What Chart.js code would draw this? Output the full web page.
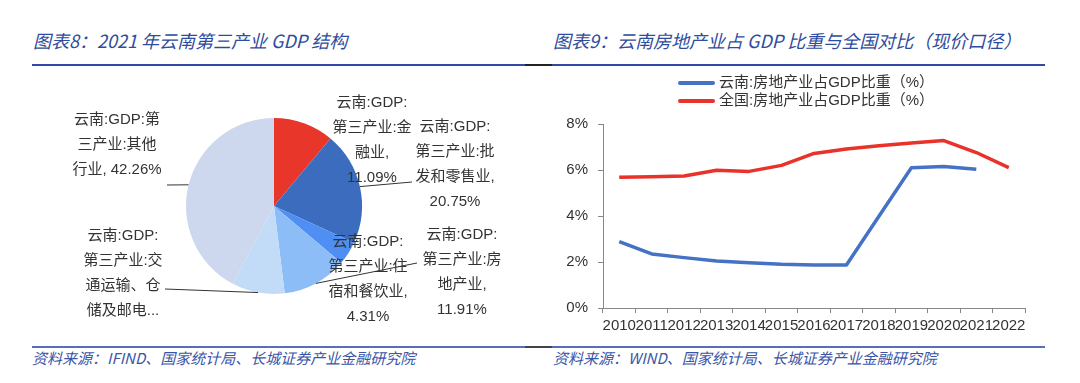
<!DOCTYPE html>
<html>
<head>
<meta charset="utf-8">
<script src="https://cdn.jsdelivr.net/npm/chart.js@4"></script>
<style>
  body { margin: 0; width: 1080px; height: 383px; position: relative; background: #fff; overflow: hidden; }
  .title { position: absolute; top: 28px; font: italic 18px/24px "Noto Sans CJK SC", sans-serif; color: #2e4c9e; white-space: nowrap; }
  .source { position: absolute; top: 348px; font: italic 15px/20px "Noto Sans CJK SC", sans-serif; color: #3a55a8; white-space: nowrap; }
  .rule { position: absolute; left: 32px; width: 1013px; }
  .rule .gap { position: absolute; left: 493px; width: 27px; top: 0; bottom: 0; }
  canvas { position: absolute; }
  #legend { position: absolute; left: 678px; top: 73px; font: 15px/18px "Liberation Sans", "Noto Sans CJK SC", sans-serif; color: #333; }
  #legend .item { height: 18px; white-space: nowrap; }
  #legend .swatch { display: inline-block; width: 37px; height: 4px; vertical-align: middle; margin-right: 4px; border-radius: 2px; }
</style>
</head>
<body>
<div class="title" style="left:33px">图表8：2021 年云南第三产业 GDP 结构</div>
<div class="title" style="left:553px">图表9：云南房地产业占 GDP 比重与全国对比（现价口径）</div>
<div class="rule" style="top:64px; height:2px; background:#2f4ba5"><div class="gap" style="background:#222"></div></div>
<div class="rule" style="top:346px; height:2px; background:#5a6db8"><div class="gap" style="background:#444"></div></div>
<div class="source" style="left:32px">资料来源：IFIND、国家统计局、长城证券产业金融研究院</div>
<div class="source" style="left:553px">资料来源：WIND、国家统计局、长城证券产业金融研究院</div>

<canvas id="pieChart" width="540" height="260" style="left:0; top:70px"></canvas>
<canvas id="lineChart" width="540" height="270" style="left:540px; top:70px"></canvas>
<div id="legend"></div>

<script>
// 图表8 数据
var pieLabels = [
  "云南:GDP:第三产业:金融业",
  "云南:GDP:第三产业:批发和零售业",
  "云南:GDP:第三产业:住宿和餐饮业",
  "云南:GDP:第三产业:房地产业",
  "云南:GDP:第三产业:交通运输、仓储及邮电通信业",
  "云南:GDP:第三产业:其他行业"
];
var pieValues = [11.09, 20.75, 4.31, 11.91, 9.68, 42.26];
var pieColors = ["#e8372a", "#3b6cbe", "#4f8ef2", "#8dbdf6", "#c2dcf8", "#cdd8ee"];

// 图表9 数据
var years = ["2010", "2011", "2012", "2013", "2014", "2015", "2016", "2017", "2018", "2019", "2020", "2021", "2022"];
var yunnanShare = [2.89, 2.35, 2.19, 2.04, 1.97, 1.90, 1.87, 1.87, 3.99, 6.10, 6.15, 6.03];
var nationalShare = [5.68, 5.71, 5.74, 5.99, 5.94, 6.20, 6.72, 6.91, 7.05, 7.17, 7.28, 6.76, 6.10];
var seriesNames = ["云南:房地产业占GDP比重（%）", "全国:房地产业占GDP比重（%）"];
var seriesColors = ["#4472c4", "#e8322a"];
var yTicks = [0, 2, 4, 6, 8];

var tickFont = { family: '"Liberation Sans", "Noto Sans CJK SC", sans-serif', size: 15 };

// label placement around the pie (offsets from pie centre), leader start point
var labelPos = [
  { dx: 98, dy: -66, w: 82 },
  { dx: 181, dy: -42, w: 82, lx: 138, ly: -24 },
  { dx: 94, dy: 73, w: 82 },
  { dx: 188, dy: 66, w: 82, lx: 143, ly: 57 },
  { dx: -151, dy: 67, w: 82, lx: -109, ly: 83 },
  { dx: -157, dy: -61, w: 92, lx: -107, ly: -21 }
];

function wrapText(ctx, text, maxW, maxLines) {
  var tokens = text.match(/[\u3000-\u9fff\uff00-\uffef]|[^\s\u3000-\u9fff\uff00-\uffef]+|\s+/g);
  var lines = [], cur = "";
  tokens.forEach(function (t) {
    if (cur !== "" && ctx.measureText(cur + t).width > maxW) {
      lines.push(cur.trim());
      cur = t.trim() === "" ? "" : t;
    } else {
      cur = cur + t;
    }
  });
  if (cur.trim()) lines.push(cur.trim());
  if (lines.length > maxLines) {
    var last = lines[maxLines - 1];
    while (last.length && ctx.measureText(last + "...").width > maxW) last = last.slice(0, -1);
    lines = lines.slice(0, maxLines - 1).concat(last + "...");
  }
  return lines;
}

var pieLabelPlugin = {
  id: "pieLabels",
  afterDatasetsDraw: function (chart) {
    var ctx = chart.ctx;
    var meta = chart.getDatasetMeta(0);
    ctx.save();
    ctx.font = '15px "Liberation Sans", "Noto Sans CJK SC", sans-serif';
    ctx.fillStyle = "#333";
    ctx.strokeStyle = "#333";
    ctx.lineWidth = 1;
    ctx.textAlign = "center";
    ctx.textBaseline = "middle";
    meta.data.forEach(function (arc, i) {
      var p = labelPos[i];
      if (p.lx === undefined) return;
      var mid = (arc.startAngle + arc.endAngle) / 2;
      ctx.beginPath();
      ctx.moveTo(arc.x + p.lx, arc.y + p.ly);
      ctx.lineTo(arc.x + Math.cos(mid) * arc.outerRadius, arc.y + Math.sin(mid) * arc.outerRadius);
      ctx.stroke();
    });
    meta.data.forEach(function (arc, i) {
      var p = labelPos[i];
      var text = pieLabels[i] + ", " + pieValues[i].toFixed(2) + "%";
      var lines = wrapText(ctx, text, p.w, 4);
      lines.forEach(function (s, k) {
        ctx.fillText(s, arc.x + p.dx, arc.y + p.dy + (k - (lines.length - 1) / 2) * 25);
      });
    });
    ctx.restore();
  }
};

new Chart(document.getElementById("pieChart"), {
  type: "pie",
  data: {
    labels: pieLabels,
    datasets: [{ data: pieValues, backgroundColor: pieColors, borderWidth: 0 }]
  },
  options: {
    responsive: false,
    animation: false,
    layout: { padding: { left: 186, right: 178, top: 48, bottom: 36 } },
    plugins: { legend: { display: false }, tooltip: { enabled: false } }
  },
  plugins: [pieLabelPlugin]
});

new Chart(document.getElementById("lineChart"), {
  type: "line",
  data: {
    labels: years,
    datasets: [
      { label: seriesNames[0], data: yunnanShare, borderColor: seriesColors[0], borderWidth: 3.5, pointRadius: 0, tension: 0, borderJoinStyle: "round", fill: false },
      { label: seriesNames[1], data: nationalShare, borderColor: seriesColors[1], borderWidth: 3.5, pointRadius: 0, tension: 0, borderJoinStyle: "round", fill: false }
    ]
  },
  options: {
    responsive: false,
    animation: false,
    layout: { padding: { top: 54, right: 55, bottom: 0, left: 0 } },
    plugins: { legend: { display: false }, tooltip: { enabled: false } },
    scales: {
      x: {
        offset: true,
        grid: { offset: true, drawOnChartArea: false, tickLength: 5, color: "#888" },
        border: { color: "#888" },
        ticks: { autoSkip: false, maxRotation: 0, padding: 4, color: "#333", font: tickFont },
        afterFit: function (scale) { scale.height = 32; }
      },
      y: {
        min: yTicks[0],
        max: yTicks[yTicks.length - 1],
        grid: { drawOnChartArea: false, tickLength: 5, color: "#888" },
        border: { color: "#888" },
        ticks: {
          stepSize: 2, padding: 10, color: "#333", font: tickFont,
          callback: function (v) { return v + "%"; }
        },
        afterFit: function (scale) { scale.width = 63; }
      }
    }
  }
});

// legend, one series per row
var legend = document.getElementById("legend");
seriesNames.forEach(function (name, i) {
  var row = document.createElement("div");
  row.className = "item";
  row.innerHTML = '<span class="swatch" style="background:' + seriesColors[i] + '"></span>' + name;
  legend.appendChild(row);
});
</script>
</body>
</html>
